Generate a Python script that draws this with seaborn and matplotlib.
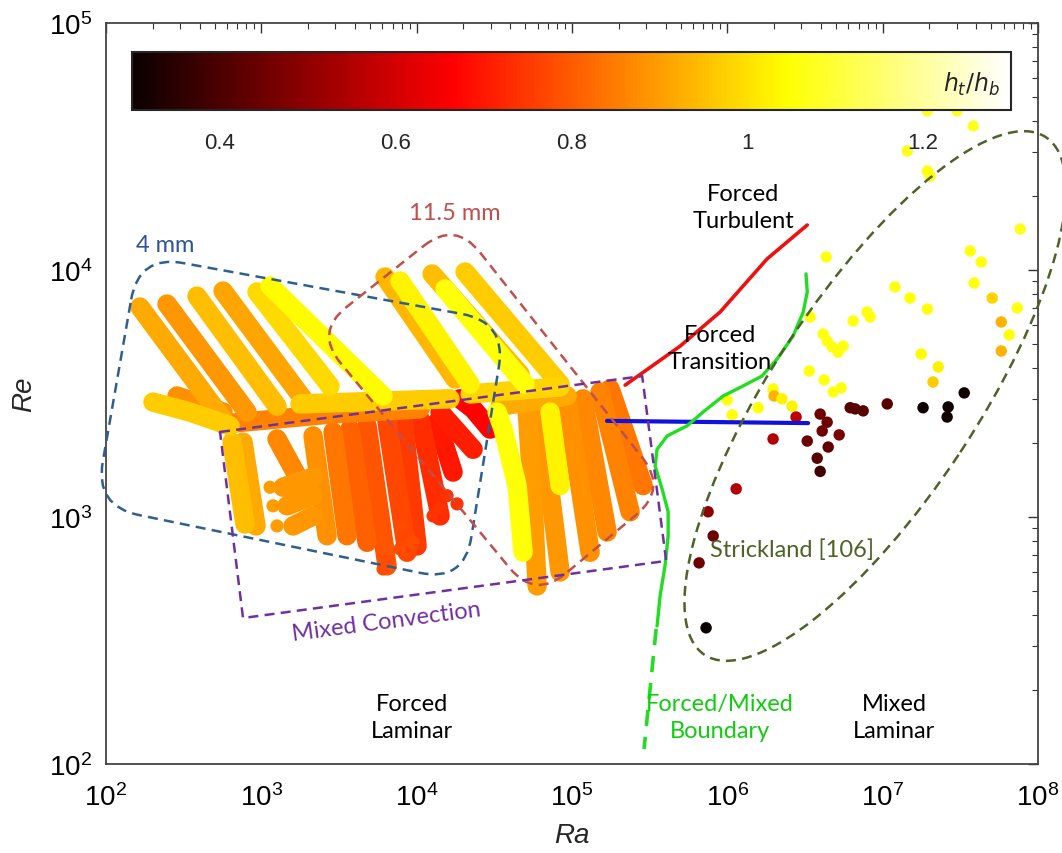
import numpy as np
import pandas as pd
import matplotlib
matplotlib.use("Agg")
import matplotlib.pyplot as plt
import matplotlib.colors as mcolors
import matplotlib.cm as cm
from matplotlib.path import Path
from matplotlib.patches import PathPatch, Ellipse
from matplotlib.transforms import IdentityTransform
from matplotlib.ticker import LogLocator, FixedLocator, NullFormatter
import seaborn as sns

# ---- data ---------------------------------------------------------------
# streaks of the present measurements (Ra, Re) with h_t/h_b per streak
streak_ra = [
    [165.5, 566.8], [247, 809], [385, 1262], [567, 1856], [938, 2770], [1138, 6076],
    [200.7, 347.4, 628.6], [286.6, 566.8], [567, 2770, 10520], [1775, 16410],
    [6259, 17680], [7819, 22080], [12570, 46340], [15240, 49890], [20500, 83830],
    [22080, 83830], [32940, 36010, 44310, 48440], [51400, 56170, 59630],
    [62340, 83830], [72280, 83830], [93000, 130800], [117900, 168300],
    [151700, 236700], [176000, 287000], [34440, 93000],
    [647.5, 785.3], [762.5, 924.6], [1380, 2153], [1464, 2153], [1600, 2153],
    [1262, 1698], [2153, 2650], [2895, 3563], [3726, 4793], [4793, 6448],
    [6448, 8675], [8175, 10060], [10520, 14150], [13530, 17160],
    [14150, 23080], [19030, 23080, 29700],
]
streak_re = [
    [7080, 2490], [7280, 2660], [7840, 2810], [8220, 3010], [8150, 3390], [8620, 3090],
    [2920, 2660, 2340], [3090, 2660], [2380, 2610, 2740], [2870, 3010],
    [9370, 3620], [9030, 3450], [9640, 3790], [8380, 3450], [9820, 3450],
    [3150, 3360], [2660, 2270, 1340, 720], [2740, 1150, 526],
    [2660, 599], [2660, 1340], [2920, 720], [3010, 870],
    [3210, 1050], [3300, 1340], [2810, 3090],
    [2010, 937], [2010, 920], [1320, 1450], [1110, 1220], [920, 1010],
    [2070, 1470], [2130, 840], [2210, 840], [2270, 790], [2340, 634],
    [2420, 720], [2490, 763], [2490, 1010], [2420, 1520],
    [2660, 1880], [3010, 2740, 2270],
]
streak_h = [
    0.92, 0.89, 0.95, 0.91, 0.99, 1.04,
    0.97, 0.88, 0.86, 0.97,
    0.94, 1.03, 0.95, 1.05, 0.97,
    0.98, 1.05, 0.90,
    0.89, 1.03, 0.88, 0.87,
    0.86, 0.84, 0.92,
    0.95, 0.92, 0.89, 0.89, 0.89,
    0.87, 0.88, 0.84, 0.81, 0.79,
    0.77, 0.75, 0.73, 0.70,
    0.71, 0.67,
]

# single loose points of the present measurements
loose_ra = [1138, 1189, 1262, 7819, 9480, 7819, 6448, 6076, 14150, 15700, 18200, 12750]
loose_re = [1320, 1110, 920, 920, 790, 742, 664, 616, 1080, 1220, 1130, 1010]
loose_h = [0.90, 0.90, 0.90, 0.78, 0.78, 0.78, 0.78, 0.78, 0.74, 0.74, 0.74, 0.74]

# Strickland [106]
strick_ra = [3.83e7, 1.44e7, 1.94e7, 2.02e7, 7.68e7, 4.33e6, 3.66e7, 4.31e7, 3.88e7,
             1.20e7, 1.50e7, 1.94e7, 5.07e7, 7.35e7, 5.80e7, 6.53e7, 5.80e7, 3.41e6,
             6.46e6, 7.94e6, 8.31e6, 4.14e6, 4.39e6, 4.73e6, 5.17e6, 5.57e6, 1.77e7,
             2.28e7, 2.11e7, 3.37e6, 4.20e6, 4.80e6, 5.40e6, 1.97e6, 2.00e6, 2.25e6,
             2.61e6, 1.58e6, 9.97e5, 1.074e6,
             2.77e6, 3.96e6, 4.39e6, 4.08e6, 5.25e6, 3.27e6, 4.46e6, 3.79e6, 3.96e6,
             1.97e6, 1.14e6, 7.52e5, 8.11e5, 6.58e5, 7.30e5, 6.18e6, 6.65e6, 7.49e6,
             1.07e7, 1.82e7, 2.64e7, 2.60e7, 3.35e7, 1.94e7, 3.02e7]
strick_re = [38280, 30330, 25170, 24040, 14660, 11290, 11940, 10770, 8860,
             8540, 7700, 6950, 7700, 7020, 6160, 5460, 4700, 6450,
             6220, 6760, 6450, 5510, 5160, 4880, 4650, 4920, 4570,
             4050, 3520, 3900, 3590, 3210, 3330, 3300, 3090, 3010,
             2810, 2770, 2980, 2590,
             2540, 2610, 2420, 2230, 2150, 2030, 1920, 1730, 1530,
             2070, 1300, 1050, 838, 652, 356, 2770, 2740, 2690,
             2870, 2770, 2790, 2540, 3180, 44050, 44050]
strick_h = [1.08, 1.07, 1.06, 1.06, 1.07, 1.06, 1.06, 1.06, 1.06,
            1.06, 1.05, 1.05, 0.98, 1.06, 0.93, 1.05, 0.93, 1.06,
            1.06, 1.06, 1.06, 1.06, 1.06, 1.06, 1.06, 1.06, 1.04,
            1.02, 0.97, 1.06, 1.06, 1.06, 1.06, 1.05, 0.93, 1.03,
            1.03, 1.05, 1.05, 1.05,
            0.57, 0.45, 0.45, 0.45, 0.47, 0.45, 0.43, 0.42, 0.38,
            0.55, 0.55, 0.50, 0.45, 0.45, 0.30, 0.42, 0.42, 0.42,
            0.42, 0.31, 0.31, 0.31, 0.31, 1.08, 1.08]

# regime boundaries
turb_ra = [2.20e5, 4.97e5, 8.99e5, 1.80e6, 3.27e6]
turb_re = [3420, 4920, 6760, 11080, 15210]
trans_ra = [1.68e5, 3.31e6]
trans_re = [2450, 2400]
bound_ra = [3.21e6, 3.27e6, 3.08e6, 2.65e6, 2.09e6, 1.67e6, 1.26e6, 9.40e5, 6.98e5,
            5.51e5, 4.10e5, 3.53e5, 3.43e5, 3.80e5, 4.16e5, 4.16e5, 3.97e5, 3.69e5, 3.53e5]
bound_re = [9640, 8150, 6760, 5400, 4360, 3720, 3390, 3090, 2660,
            2340, 2130, 1880, 1610, 1300, 1050, 838, 634, 479, 362]
bound_dash_ra = [3.48e5, 2.91e5]
bound_dash_re = [352, 115]

# axis ticks
x_ticks = [1e2, 1e3, 1e4, 1e5, 1e6, 1e7, 1e8]
y_ticks = [1e2, 1e3, 1e4, 1e5]
cbar_ticks = [0.4, 0.6, 0.8, 1.0, 1.2]
cbar_labels = ["0.4", "0.6", "0.8", "1", "1.2"]

# annotation outlines (corners in Ra, Re)
box4_ra, box4_re = [163, 37650, 20200, 85.0], [11500, 6160, 546, 1108]
box11_ra, box11_re = [17680, 4.10e5, 57880, 2217], [15790, 1298, 466, 5610]
mixed_ra, mixed_re = [542, 2.83e5, 4.04e5, 762.5], [2210, 3720, 664, 390]
strick_center = (8.95e6, 3090)

# ---- figure ---------------------------------------------------------------
sns.set_style("white")
plt.rcParams["font.family"] = ["Liberation Sans", "DejaVu Sans"]
plt.rcParams["mathtext.fontset"] = "dejavusans"
note_font = ["Lato", "DejaVu Sans"]

fig, ax = plt.subplots(figsize=(10.62, 8.54), dpi=100)
fig.subplots_adjust(left=0.0998, right=0.9774, bottom=0.1042, top=0.9719)
ax.set_xscale("log")
ax.set_yscale("log")
ax.set_xlim(1e2, 1e8)
ax.set_ylim(1e2, 1e5)

norm = mcolors.Normalize(0.3, 1.3)

rows = []
for i, (ra, re, h) in enumerate(zip(streak_ra, streak_re, streak_h)):
    for a, b in zip(ra, re):
        rows.append((i, a, b, h))
streaks = pd.DataFrame(rows, columns=["streak", "Ra", "Re", "h"])

sns.lineplot(data=streaks, x="Ra", y="Re", units="streak", estimator=None, sort=False,
             hue="h", palette="hot", hue_norm=(0.3, 1.3), linewidth=14,
             solid_capstyle="round", legend=False, ax=ax, zorder=2)
sns.scatterplot(x=loose_ra, y=loose_re, hue=loose_h, palette="hot", hue_norm=(0.3, 1.3),
                s=90, linewidth=0, legend=False, ax=ax, zorder=2)
sns.scatterplot(x=strick_ra, y=strick_re, hue=strick_h, palette="hot", hue_norm=(0.3, 1.3),
                s=68, linewidth=0, legend=False, ax=ax, zorder=3)

ax.plot(turb_ra, turb_re, color="#ee1111", lw=2.6, zorder=4)
ax.plot(trans_ra, trans_re, color="#1111dd", lw=3, zorder=4)
ax.plot(bound_ra, bound_re, color="#22dd22", lw=2.4, zorder=4)
ax.plot(bound_dash_ra, bound_dash_re, color="#22dd22", lw=2.6, ls=(0, (4.5, 3)),
        zorder=4, clip_on=False)


def outline(ra, re, radius, **kw):
    pts = ax.transData.transform(np.column_stack([ra, re]))
    verts, codes = [], []
    for i in range(len(pts)):
        p, prv, nxt = pts[i], pts[i - 1], pts[(i + 1) % len(pts)]
        a = p + (prv - p) / np.hypot(*(prv - p)) * radius
        b = p + (nxt - p) / np.hypot(*(nxt - p)) * radius
        verts += [a, p, b]
        codes += [Path.MOVETO if i == 0 else Path.LINETO, Path.CURVE3, Path.CURVE3]
    verts.append(verts[0])
    codes.append(Path.CLOSEPOLY)
    verts = ax.transAxes.inverted().transform(np.array(verts))
    ax.add_patch(PathPatch(Path(verts, codes), transform=ax.transAxes, fill=False,
                           clip_on=False, zorder=4, **kw))


dash = (0, (4, 2.5))
outline(box4_ra, box4_re, 45, ec="#2f5f8f", lw=1.8, ls=dash)
outline(box11_ra, box11_re, 40, ec="#c0504d", lw=1.8, ls=dash)
outline(mixed_ra, mixed_re, 0.01, ec="#7030a0", lw=1.8, ls=dash)
c = ax.transData.transform(strick_center)
ax.add_patch(Ellipse(c, 620, 204, angle=56.6, transform=IdentityTransform(), fill=False,
                     ec="#4f6228", lw=1.8, ls=dash, clip_on=False, zorder=4))

# annotations
kw = dict(ha="center", va="center", fontsize=17, family=note_font, linespacing=1.35, zorder=6)
ax.text(240, 12630, "4 mm", color="#2f5597", **kw)
ax.text(17680, 17170, "11.5 mm", color="#c0504d", **kw)
ax.text(1.264e6, 17990, "Forced\nTurbulent", color="black", **kw)
ax.text(8.99e5, 4832, "Forced\nTransition", color="black", **kw)
ax.text(6353, 379, "Mixed Convection", color="#7030a0", rotation=7.5, **kw)
ax.text(2.61e6, 742, "Strickland [106]", color="#4f6228", **kw)
ax.text(9343, 155, "Forced\nLaminar", color="black", **kw)
ax.text(8.99e5, 155, "Forced/Mixed\nBoundary", color="#11cc11", **kw)
ax.text(1.186e7, 155, "Mixed\nLaminar", color="black", **kw)

# axes styling
ax.xaxis.set_major_locator(FixedLocator(x_ticks))
ax.yaxis.set_major_locator(FixedLocator(y_ticks))
for axis in (ax.xaxis, ax.yaxis):
    axis.set_minor_locator(LogLocator(base=10, subs=np.arange(2, 10), numticks=100))
    axis.set_minor_formatter(NullFormatter())
ax.tick_params(which="both", direction="in", top=True, right=True, colors="#333333",
               labelcolor="black")
ax.tick_params(which="major", length=7, width=1.0, labelsize=20, pad=10)
ax.tick_params(axis="x", which="major", pad=14)
ax.tick_params(which="minor", length=4, width=0.8)
for s in ax.spines.values():
    s.set_color("#444444")
    s.set_linewidth(1.3)
ax.set_xlabel("Ra", fontsize=20, fontstyle="italic", labelpad=8)
ax.set_ylabel("Re", fontsize=20, fontstyle="italic", labelpad=8)

# colorbar inside the axes
cax = ax.inset_axes([0.0279, 0.8826, 0.943, 0.0783])
sm = cm.ScalarMappable(norm=norm, cmap="hot")
cb = fig.colorbar(sm, cax=cax, orientation="horizontal", ticks=cbar_ticks)
cb.ax.set_xticklabels(cbar_labels)
cb.ax.tick_params(direction="in", length=6, width=1, labelsize=16, pad=16, color="#333333")
cb.outline.set_linewidth(1.5)
cb.ax.text(0.987, 0.45, r"$h_t/h_b$", transform=cb.ax.transAxes, ha="right", va="center",
           fontsize=17)

fig.savefig("out.png", dpi=100)
